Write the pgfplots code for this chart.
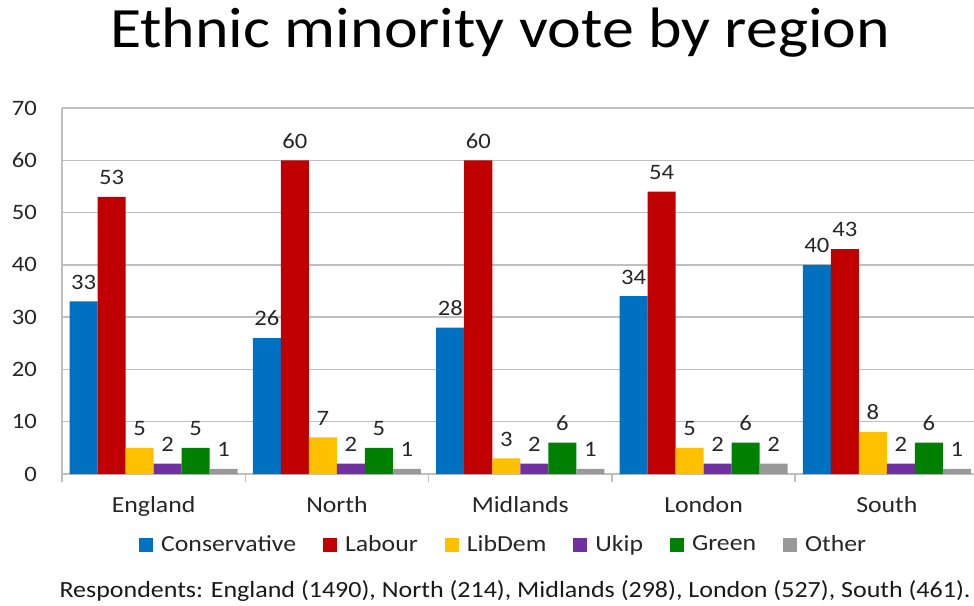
\documentclass[border=0pt]{standalone}
\usepackage{pgfplots}
\pgfplotsset{compat=1.18}
\usepackage{fontspec}
\setmainfont[FakeStretch=1.12]{Carlito}
\definecolor{cCon}{HTML}{0070C0}
\definecolor{cLab}{HTML}{C00000}
\definecolor{cLib}{HTML}{FFC000}
\definecolor{cUkip}{HTML}{7030A0}
\definecolor{cGreen}{HTML}{008000}
\definecolor{cOther}{HTML}{999999}
\definecolor{gridgray}{HTML}{BFBFBF}
\begin{document}
\begin{tikzpicture}
\useasboundingbox (0,0) rectangle (487pt,302.5pt);
\node[anchor=base, font=\fontsize{28.5}{34}\selectfont] at (250pt,278.5pt) {Ethnic minority vote by region};
\node[anchor=base east, inner sep=0pt, font=\fontsize{11.6}{14}\selectfont, text=black!90] at (485.5pt,4pt) {Respondents: England (1490), North (214), Midlands (298), London (527), South (461).};
\begin{axis}[
  at={(31pt,65.5pt)}, anchor=south west,
  scale only axis, width=458.25pt, height=183pt,
  xmin=-0.5, xmax=4.5, ymin=0, ymax=70,
  ytick={0,10,...,70},
  xtick={0,1,2,3,4},
  xticklabels={England,North,Midlands,London,South},
  extra x ticks={-0.5,0.5,1.5,2.5,3.5,4.5},
  extra x tick labels={},
  extra x tick style={major tick length=4pt, tick style={draw=gridgray, line width=0.75pt}},
  major tick length=0pt,
  ytick style={draw=gridgray, line width=0.75pt},
  axis x line=bottom, axis y line=left,
  axis line style={-, draw=gridgray, line width=0.75pt},
  tick align=outside,
  ymajorgrids, grid style={draw=gridgray, line width=0.75pt},
  ybar=0pt, bar width=14pt,
  /pgf/number format/assume math mode=true,
  yticklabel style={font=\fontsize{11}{12}\selectfont, text=black!85, anchor=east, xshift=-9pt},
  xticklabel style={font=\fontsize{11.5}{14}\selectfont, text=black!85, anchor=base, yshift=-19pt},
  nodes near coords,
  every node near coord/.append style={font=\fontsize{11}{12}\selectfont, text=black!85, yshift=2.5pt},
  legend style={at={(0.483,-0.194)}, anchor=center, draw=none, fill=none,
    font=\fontsize{11.5}{14}\selectfont, text=black!85,
    legend columns=6,
    /tikz/every even column/.append style={column sep=11.5pt}},
  legend image code/.code={\path[#1, draw=none] (0pt,-3.5pt) rectangle (7pt,3.5pt);},
  legend cell align=left,
]
\addplot[fill=cCon, draw=none] coordinates {(0,33) (1,26) (2,28) (3,34) (4,40)};
\addplot[fill=cLab, draw=none] coordinates {(0,53) (1,60) (2,60) (3,54) (4,43)};
\addplot[fill=cLib, draw=none] coordinates {(0,5) (1,7) (2,3) (3,5) (4,8)};
\addplot[fill=cUkip, draw=none] coordinates {(0,2) (1,2) (2,2) (3,2) (4,2)};
\addplot[fill=cGreen, draw=none] coordinates {(0,5) (1,5) (2,6) (3,6) (4,6)};
\addplot[fill=cOther, draw=none] coordinates {(0,1) (1,1) (2,1) (3,2) (4,1)};
\legend{\hspace{2pt}Conservative,\hspace{2pt}Labour,\hspace{2pt}LibDem,\hspace{2pt}Ukip,\hspace{2pt}Green,\hspace{2pt}Other}
\end{axis}
\end{tikzpicture}
\end{document}
